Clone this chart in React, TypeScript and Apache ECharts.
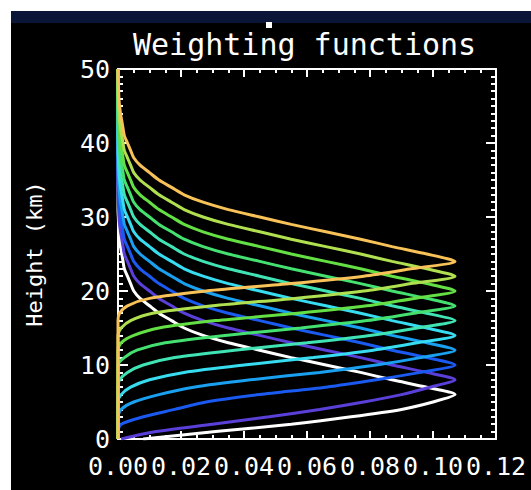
import React, { useEffect, useRef } from "react";
import * as echarts from "echarts";

// Heights (km) shared by every weighting function
const HEIGHTS = [
  0, 1, 2, 3, 4, 5, 6, 7, 8, 9, 10, 11, 12, 13, 14, 15, 16, 17, 18, 19, 20, 21, 22, 23, 24, 25,
  26, 27, 28, 29, 30, 31, 32, 33, 34, 35, 36, 37, 38, 39, 40, 41, 42, 43, 44, 45, 46, 47, 48, 49, 50,
];

// Weighting function values, one array per channel (peak height in the name)
const W06 = [
  0.008, 0.031, 0.055, 0.074, 0.09, 0.1, 0.107, 0.098, 0.087, 0.077, 0.066, 0.055, 0.045, 0.035,
  0.027, 0.021, 0.017, 0.013, 0.01, 0.007, 0.005, 0.004, 0.003, 0.002, 0.0016, 0.0012, 0.0008,
  0.0005, 0.0003, 0.0002, 0.0001, 0, 0, 0, 0, 0, 0, 0, 0, 0, 0, 0, 0, 0, 0, 0, 0, 0, 0, 0, 0,
];
const W08 = [
  0.001, 0.012, 0.03, 0.048, 0.064, 0.078, 0.09, 0.099, 0.107, 0.098, 0.087, 0.077, 0.066, 0.055,
  0.045, 0.035, 0.027, 0.021, 0.017, 0.013, 0.01, 0.007, 0.005, 0.004, 0.003, 0.002, 0.0016, 0.0012,
  0.0008, 0.0005, 0.0003, 0.0002, 0.0001, 0, 0, 0, 0, 0, 0, 0, 0, 0, 0, 0, 0, 0, 0, 0, 0, 0, 0,
];
const W10 = [
  0, 0, 0.001, 0.008, 0.018, 0.028, 0.045, 0.066, 0.082, 0.096, 0.107, 0.098, 0.087, 0.077, 0.066,
  0.055, 0.045, 0.035, 0.027, 0.021, 0.017, 0.013, 0.01, 0.007, 0.005, 0.004, 0.003, 0.002, 0.0016,
  0.0012, 0.0008, 0.0005, 0.0003, 0.0002, 0.0001, 0, 0, 0, 0, 0, 0, 0, 0, 0, 0, 0, 0, 0, 0, 0, 0,
];
const W12 = [
  0, 0, 0, 0, 0.001, 0.005, 0.013, 0.024, 0.042, 0.064, 0.082, 0.096, 0.107, 0.098, 0.087, 0.077,
  0.066, 0.055, 0.045, 0.035, 0.027, 0.021, 0.017, 0.013, 0.01, 0.007, 0.005, 0.004, 0.003, 0.002,
  0.0016, 0.0012, 0.0008, 0.0005, 0.0003, 0.0002, 0.0001, 0, 0, 0, 0, 0, 0, 0, 0, 0, 0, 0, 0, 0, 0,
];
const W14 = [
  0, 0, 0, 0, 0, 0, 0.001, 0.004, 0.01, 0.021, 0.04, 0.062, 0.081, 0.095, 0.107, 0.098, 0.087, 0.077,
  0.066, 0.055, 0.045, 0.035, 0.027, 0.021, 0.017, 0.013, 0.01, 0.007, 0.005, 0.004, 0.003, 0.002,
  0.0016, 0.0012, 0.0008, 0.0005, 0.0003, 0.0002, 0.0001, 0, 0, 0, 0, 0, 0, 0, 0, 0, 0, 0, 0,
];
const W16 = [
  0, 0, 0, 0, 0, 0, 0, 0, 0.0005, 0.003, 0.008, 0.018, 0.037, 0.06, 0.08, 0.095, 0.107, 0.098, 0.087,
  0.077, 0.066, 0.055, 0.045, 0.035, 0.027, 0.021, 0.017, 0.013, 0.01, 0.007, 0.005, 0.004, 0.003,
  0.002, 0.0016, 0.0012, 0.0008, 0.0005, 0.0003, 0.0002, 0.0001, 0, 0, 0, 0, 0, 0, 0, 0, 0, 0,
];
const W18 = [
  0, 0, 0, 0, 0, 0, 0, 0, 0, 0, 0, 0.002, 0.006, 0.015, 0.034, 0.058, 0.079, 0.094, 0.107, 0.098,
  0.087, 0.077, 0.066, 0.055, 0.045, 0.035, 0.027, 0.021, 0.017, 0.013, 0.01, 0.007, 0.005, 0.004,
  0.003, 0.002, 0.0016, 0.0012, 0.0008, 0.0005, 0.0003, 0.0002, 0.0001, 0, 0, 0, 0, 0, 0, 0, 0,
];
const W20 = [
  0, 0, 0, 0, 0, 0, 0, 0, 0, 0, 0, 0, 0, 0.001, 0.005, 0.013, 0.031, 0.057, 0.079, 0.094, 0.107,
  0.098, 0.087, 0.077, 0.066, 0.055, 0.045, 0.035, 0.027, 0.021, 0.017, 0.013, 0.01, 0.007, 0.005,
  0.004, 0.003, 0.002, 0.0016, 0.0012, 0.0008, 0.0005, 0.0003, 0.0002, 0.0001, 0, 0, 0, 0, 0, 0,
];
const W22 = [
  0, 0, 0, 0, 0, 0, 0, 0, 0, 0, 0, 0, 0, 0, 0, 0.001, 0.004, 0.011, 0.03, 0.056, 0.078, 0.093,
  0.107, 0.098, 0.087, 0.077, 0.066, 0.055, 0.045, 0.035, 0.027, 0.021, 0.017, 0.013, 0.01, 0.007,
  0.005, 0.004, 0.003, 0.002, 0.0016, 0.0012, 0.0008, 0.0005, 0.0003, 0.0002, 0.0001, 0, 0, 0, 0,
];
const W24 = [
  0, 0, 0, 0, 0, 0, 0, 0, 0, 0, 0, 0, 0, 0, 0, 0, 0, 0.0005, 0.003, 0.01, 0.028, 0.055, 0.078,
  0.093, 0.107, 0.098, 0.087, 0.077, 0.066, 0.055, 0.045, 0.035, 0.027, 0.021, 0.017, 0.013, 0.01,
  0.007, 0.005, 0.004, 0.003, 0.002, 0.0016, 0.0012, 0.0008, 0.0005, 0.0003, 0.0002, 0.0001, 0, 0,
];

const CURVES = [W06, W08, W10, W12, W14, W16, W18, W20, W22, W24];
const COLORS = [
  "#ffffff", "#5a40d8", "#1a5af0", "#1aa0f0", "#38dcf0",
  "#40e4b4", "#44e070", "#64e044", "#b0e050", "#f8c258",
];

const TITLE = "Weighting functions";
const Y_NAME = "Height (km)";
const X_MIN = 0, X_MAX = 0.12, X_STEP = 0.02;
const Y_MIN = 0, Y_MAX = 50, Y_STEP = 10;

const FONT = "'DejaVu Sans Mono', monospace";

export default function App() {
  const ref = useRef<HTMLDivElement>(null);
  useEffect(() => {
    if (!ref.current) return;
    const chart = echarts.init(ref.current, null, { renderer: "svg" });
    const axisLine = { show: true, onZero: false, lineStyle: { color: "#fff", width: 2 } };
    const xTick = { show: true, inside: true, length: 8, lineStyle: { color: "#fff", width: 2 } };
    const xMinor = { show: true, splitNumber: 4, length: 4, lineStyle: { color: "#fff", width: 2 } };
    const yTick = { show: true, inside: true, length: 10, lineStyle: { color: "#fff", width: 2 } };
    const yMinor = { show: true, splitNumber: 10, length: 5, lineStyle: { color: "#fff", width: 2 } };
    const baseX = {
      type: "value", min: X_MIN, max: X_MAX, interval: X_STEP,
      axisLine, axisTick: xTick, minorTick: xMinor,
      splitLine: { show: false }, minorSplitLine: { show: false },
    };
    const baseY = {
      type: "value", min: Y_MIN, max: Y_MAX, interval: Y_STEP,
      axisLine, axisTick: yTick, minorTick: yMinor,
      splitLine: { show: false }, minorSplitLine: { show: false },
    };
    chart.setOption({
      animation: false,
      backgroundColor: "#000",
      title: {
        text: TITLE,
        left: 117,
        top: 13,
        textStyle: { color: "#fff", fontFamily: FONT, fontSize: 30, fontWeight: "normal" },
      },
      graphic: [
        { type: "rect", left: 0, top: 0, shape: { width: 520, height: 12 }, style: { fill: "#0b1538" } },
        { type: "rect", left: 255, top: 11, shape: { width: 6, height: 6 }, style: { fill: "#fff" } },
      ],
      grid: { left: 107, top: 58, width: 378, height: 370, containLabel: false },
      xAxis: [
        {
          ...baseX,
          position: "bottom",
          axisLabel: {
            show: true, interval: 0, color: "#fff", fontFamily: FONT, fontSize: 25, margin: 15,
            formatter: (v: number) => v.toFixed(2),
          },
        },
        { ...baseX, position: "top", axisLabel: { show: false } },
      ],
      yAxis: [
        {
          ...baseY,
          position: "left",
          name: Y_NAME,
          nameLocation: "middle",
          nameRotate: 90,
          nameGap: 73,
          nameTextStyle: { color: "#fff", fontFamily: FONT, fontSize: 22 },
          axisLabel: { show: true, color: "#fff", fontFamily: FONT, fontSize: 25, margin: 8 },
        },
        { ...baseY, position: "right", axisLabel: { show: false } },
      ],
      series: CURVES.map((vals, k) => ({
        type: "line",
        xAxisIndex: 0,
        yAxisIndex: 0,
        showSymbol: false,
        symbol: "none",
        smooth: 0.25,
        lineStyle: { color: COLORS[k], width: 3 },
        data: HEIGHTS.map((h, i) => [vals[i], h]),
      })),
    });
    return () => chart.dispose();
  }, []);
  return (
    <div
      ref={ref}
      style={{ position: "absolute", left: 11, top: 11, width: 520, height: 479 }}
    />
  );
}
